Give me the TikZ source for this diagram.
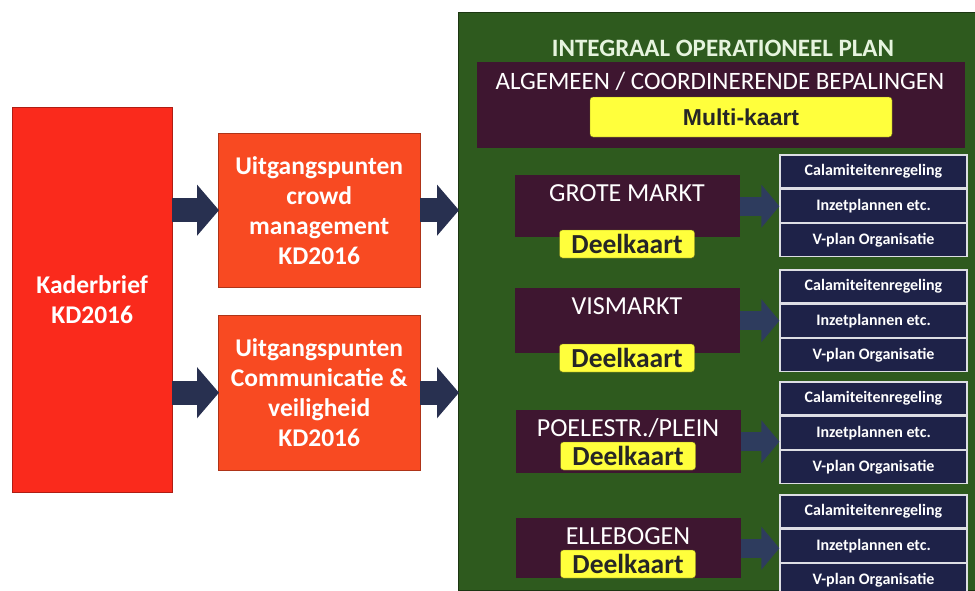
\documentclass[tikz,border=0pt]{standalone}
\usepackage{fontspec}
\setmainfont{Carlito}
\newfontfamily\arialfont{Liberation Sans}
\usetikzlibrary{positioning,arrows.meta}

\definecolor{kaderred}{HTML}{FA2A1C}
\definecolor{uitgorange}{HTML}{F84A22}
\definecolor{plangreen}{HTML}{2E5A1E}
\definecolor{locmaroon}{HTML}{3E1630}
\definecolor{taaknavy}{HTML}{1E2248}
\definecolor{pijlnavy}{HTML}{283050}
\definecolor{pijlslate}{HTML}{2E3C5E}
\definecolor{kaartyellow}{HTML}{FFFF3C}
\definecolor{titelmint}{HTML}{E6F4DE}

\begin{document}
\begin{tikzpicture} [x=1pt, y=-1pt,
            kader/.style={rectangle, fill=kaderred, draw=kaderred!70!black, thin, text=white,
                font=\fontsize{25.5}{30}\selectfont\bfseries, align=center, anchor=north west},
            uitg/.style={rectangle, fill=uitgorange, draw=uitgorange!70!black, thin, text=white,
                font=\fontsize{25.5}{30}\selectfont\bfseries, align=center, anchor=north west,
                minimum width=202pt, inner xsep=0pt},
            locatie/.style={rectangle, fill=locmaroon, text=white, anchor=north,
                font=\fontsize{26}{28}\selectfont, minimum width=225pt, inner ysep=5pt, text height=21.5pt},
            deelkaart/.style={rectangle, rounded corners=3pt, fill=kaartyellow, draw=kaartyellow!45!black,
                font=\fontsize{27.5}{28}\selectfont\bfseries, text=black!85,
                minimum width=135pt, minimum height=28pt, inner sep=0pt},
            taak/.style={rectangle, fill=taaknavy, draw=white!85!taaknavy, line width=1.2pt, text=white,
                font=\fontsize{16}{18}\selectfont\bfseries, minimum width=187pt, minimum height=33pt, inner sep=0pt},
            bigpijl/.style={-{Triangle[width=50pt,length=22pt]}, line width=24pt, draw=pijlnavy, shorten >=-1pt},
            smallpijl/.style={-{Triangle[width=42pt,length=18pt]}, line width=19pt, draw=pijlslate},]
        \useasboundingbox (0,0) rectangle (975,590);
        \fill[white] (0,0) rectangle (975,590);

        % linker kolom
        \node[kader, minimum width=160pt, minimum height=385pt](kader) at (12,107) {Kaderbrief\\KD2016};
        \node[uitg, minimum height=154pt](crowd) at (218,133) {Uitgangspunten\\crowd\\management\\KD2016};
        \node[uitg, minimum height=155pt](comm) at (218,315) {Uitgangspunten\\Communicatie \&\\veiligheid\\KD2016};

        % groen plan
        \node[rectangle, fill=plangreen, draw=plangreen!60!black, anchor=north west,
            minimum width=517pt, minimum height=578pt, inner sep=0pt](plan) at (458,12) {};
        \node[text=titelmint, font=\fontsize{25}{28}\selectfont\bfseries](titel) at (723,48) {INTEGRAAL OPERATIONEEL PLAN};
        \node[rectangle, fill=locmaroon, anchor=north west, minimum width=488pt, minimum height=86pt, inner sep=0pt](alg) at (477,62) {};
        \node[text=white, font=\fontsize{25}{28}\selectfont](algtekst) at (720,81) {ALGEMEEN / COORDINERENDE BEPALINGEN};
        \node[deelkaart, minimum width=302pt, minimum height=40pt, font=\arialfont\fontsize{23}{24}\selectfont\bfseries](multi) at (741,117) {Multi-kaart};

        % locaties
        \node[locatie, text depth=30.5pt](gm) at (627,175) {GROTE MARKT};
        \node[deelkaart](gmkaart) at (627,244) {Deelkaart};
        \node[locatie, text depth=33.5pt](vm) at (627,288) {VISMARKT};
        \node[deelkaart](vmkaart) at (627,358) {Deelkaart};
        \node[locatie, text depth=31.5pt](pp) at (628,410) {POELESTR./PLEIN};
        \node[deelkaart](ppkaart) at (628,456) {Deelkaart};
        \node[locatie, text depth=28.5pt](eb) at (628,518) {ELLEBOGEN};
        \node[deelkaart](ebkaart) at (628,564) {Deelkaart};

        % taken per locatie
        \node[taak](gm1) at (873.5,171.5) {Calamiteitenregeling};
        \node[taak](gm2)[below=0pt of gm1] {Inzetplannen etc.};
        \node[taak](gm3)[below=0pt of gm2] {V-plan Organisatie};
        \node[taak](vm1) at (873.5,286.5) {Calamiteitenregeling};
        \node[taak](vm2)[below=0pt of vm1] {Inzetplannen etc.};
        \node[taak](vm3)[below=0pt of vm2] {V-plan Organisatie};
        \node[taak](pp1) at (873.5,398.5) {Calamiteitenregeling};
        \node[taak](pp2)[below=0pt of pp1] {Inzetplannen etc.};
        \node[taak](pp3)[below=0pt of pp2] {V-plan Organisatie};
        \node[taak](eb1) at (873.5,511.5) {Calamiteitenregeling};
        \node[taak](eb2)[below=0pt of eb1] {Inzetplannen etc.};
        \node[taak](eb3)[below=0pt of eb2] {V-plan Organisatie};

        % pijlen
        \draw[bigpijl] (kader.east |- crowd.west) -- (crowd.west);
        \draw[bigpijl] (kader.east |- comm.west) -- (comm.west);
        \draw[bigpijl] (crowd.east) -- (plan.west |- crowd.east);
        \draw[bigpijl] (comm.east) -- (plan.west |- comm.east);
        \draw[smallpijl] (gm.east) -- (gm2.west |- gm.east);
        \draw[smallpijl] (vm.east) -- (vm2.west |- vm.east);
        \draw[smallpijl] (pp.east) -- (pp2.west |- pp.east);
        \draw[smallpijl] (eb.east) -- (eb2.west |- eb.east);
    \end{tikzpicture}
\end{document}
